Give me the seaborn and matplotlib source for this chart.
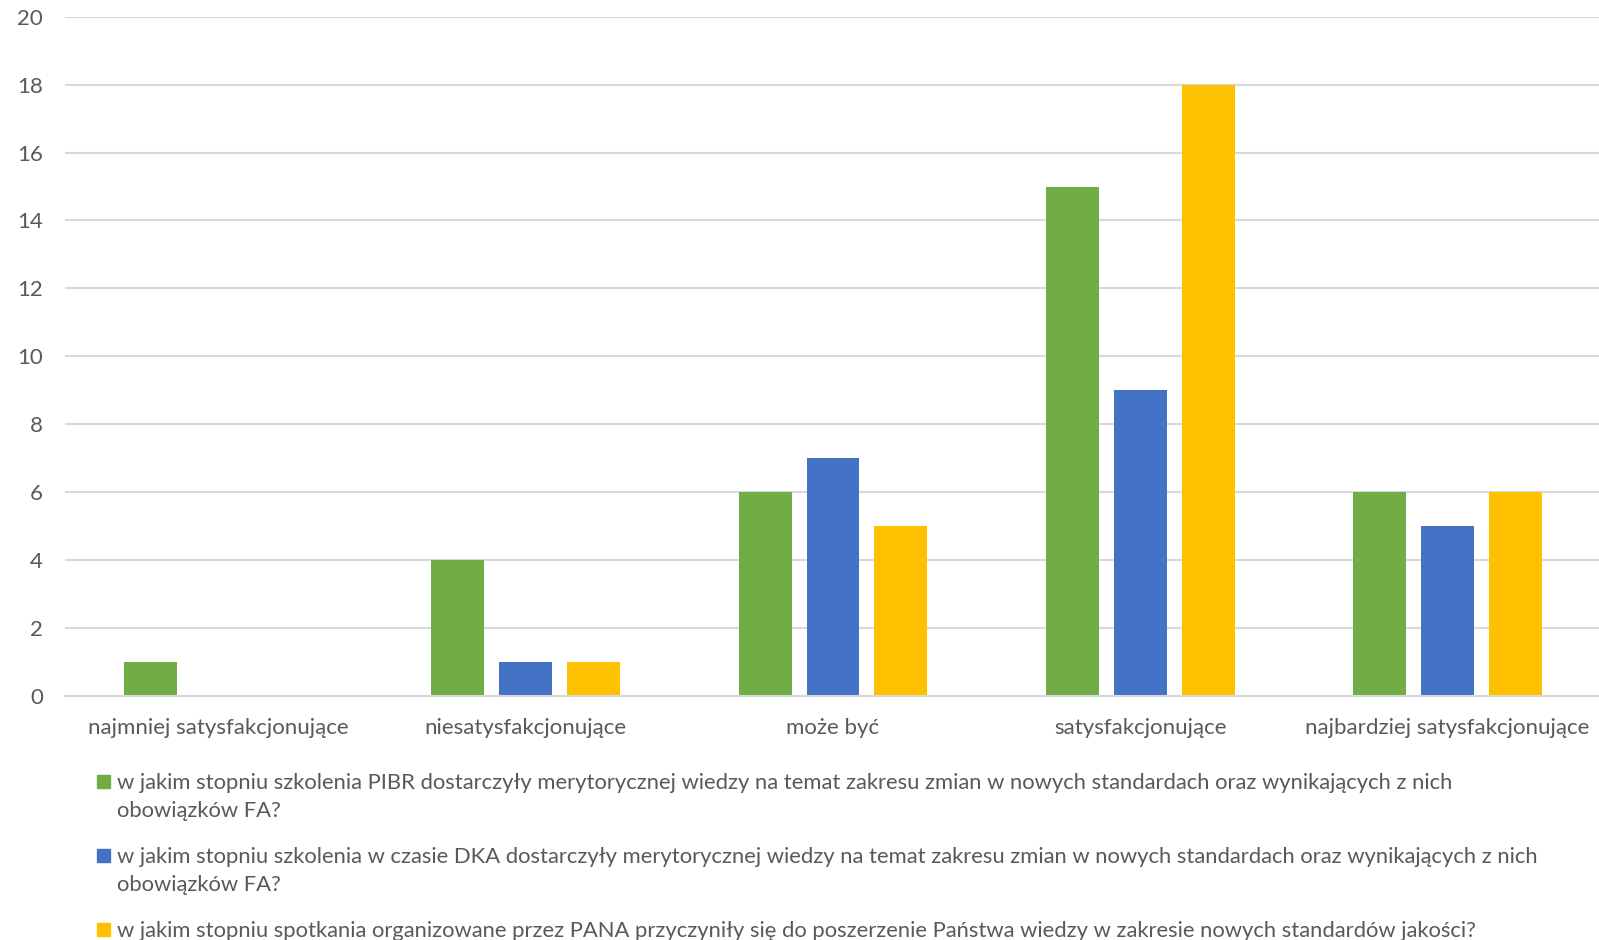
import pandas as pd
import matplotlib.pyplot as plt
import seaborn as sns
from matplotlib.patches import Rectangle

kategorie = ["najmniej satysfakcjonujące", "niesatysfakcjonujące", "może być",
             "satysfakcjonujące", "najbardziej satysfakcjonujące"]
serie = [
    "w jakim stopniu szkolenia PIBR dostarczyły merytorycznej wiedzy na temat zakresu zmian w nowych standardach oraz wynikających z nich\nobowiązków FA?",
    "w jakim stopniu szkolenia w czasie DKA dostarczyły merytorycznej wiedzy na temat zakresu zmian w nowych standardach oraz wynikających z nich\nobowiązków FA?",
    "w jakim stopniu spotkania organizowane przez PANA przyczyniły się do poszerzenie Państwa wiedzy w zakresie nowych standardów jakości?",
]
pibr = [1, 4, 6, 15, 6]
dka = [0, 1, 7, 9, 5]
pana = [0, 1, 5, 18, 6]
kolory = ["#70AD47", "#4472C4", "#FFC000"]

df = pd.DataFrame({
    "kategoria": kategorie * 3,
    "seria": [serie[0]] * 5 + [serie[1]] * 5 + [serie[2]] * 5,
    "liczba": pibr + dka + pana,
})

sns.set_style("white")
plt.rcParams["font.family"] = ["Lato", "DejaVu Sans"]
tekst = "#595959"
W, H = 1599, 940

fig = plt.figure(figsize=(15.99, 9.40), dpi=100)
ax = fig.add_axes([65 / W, 1 - 696 / H, 1536 / W, (696 - 16.7) / H])

sns.barplot(data=df, x="kategoria", y="liczba", hue="seria", order=kategorie,
            hue_order=serie, palette=kolory, width=0.664, saturation=1,
            legend=False, ax=ax)

# odstępy między słupkami jak w Excelu
for p in ax.patches:
    w = p.get_width()
    nowa = w * 53 / 68
    p.set_x(p.get_x() + (w - nowa) / 2)
    p.set_width(nowa)
    p.set_linewidth(0)

ax.set_ylim(0, 20)
ax.set_xlim(-0.5, 4.5)
ax.set_yticks(range(0, 21, 2))
ax.grid(axis="y", color="#D9D9D9", linewidth=1.5)
ax.set_axisbelow(True)
for s in ["top", "right", "left"]:
    ax.spines[s].set_visible(False)
ax.spines["bottom"].set_color("#D9D9D9")
ax.spines["bottom"].set_linewidth(1.5)
ax.tick_params(axis="y", length=0, pad=16, labelsize=16, labelcolor=tekst)
ax.tick_params(axis="x", length=0, pad=16, labelsize=16, labelcolor=tekst)
ax.set_xlabel("")
ax.set_ylabel("")

# legenda - kwadrat przy pierwszej linii, kolejne linie co 28 px
y_wpisy = [781, 855, 929]
for kolor, nazwa, y in zip(kolory, serie, y_wpisy):
    fig.patches.append(Rectangle((97 / W, 1 - (y + 6.5) / H), 13 / W, 13 / H,
                                 transform=fig.transFigure, color=kolor))
    for i, linia in enumerate(nazwa.split("\n")):
        fig.text(117 / W, 1 - (y + 28 * i) / H, linia, fontsize=15.8, color=tekst,
                 va="center_baseline", ha="left")

plt.savefig("out.png", dpi=100)
